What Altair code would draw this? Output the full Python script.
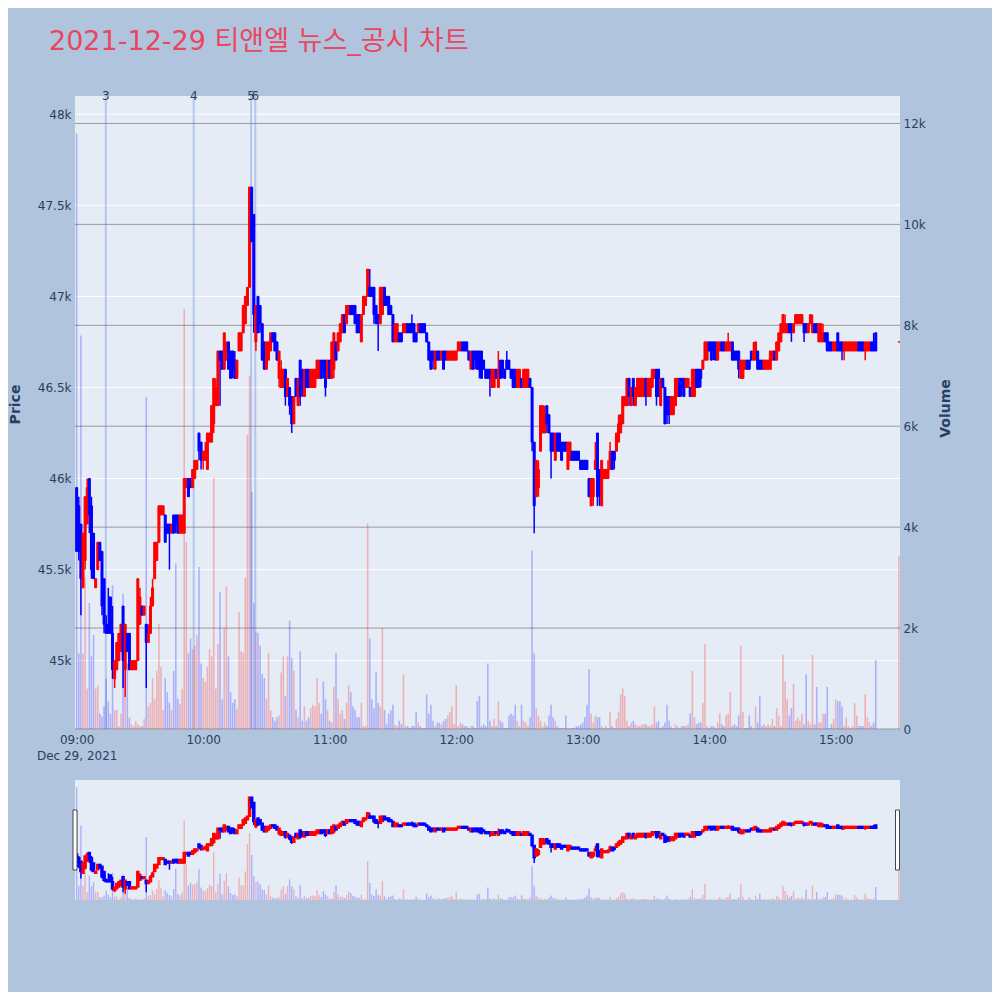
import altair as alt
import pandas as pd

# ---- 1-minute candles, 09:00 .. 15:19, plus the 15:30 closing auction ----
open_price = [
    45950,45850,45750,45400,45550,45750,46000,45850,45700,45400,
    45500,45650,45600,45450,45200,45200,45350,45150,44900,44950,
    45000,45050,45300,44950,45150,45150,44950,44950,44950,45000,
    45200,45300,45250,45200,45100,45150,45300,45450,45550,45650,
    45800,45800,45800,45750,45750,45700,45800,45800,45800,45700,
    45700,45700,45950,46000,46000,45950,46000,46050,46250,46200,
    46100,46100,46050,46200,46200,46300,46400,46400,46700,46700,
    46600,46650,46750,46700,46700,46650,46550,46700,46700,46800,
    46850,46950,47050,47600,47450,46750,47000,46950,46850,46750,
    46600,46650,46700,46800,46800,46750,46550,46500,46500,46600,
    46450,46500,46450,46300,46550,46400,46650,46600,46450,46600,
    46600,46500,46500,46500,46550,46550,46650,46650,46650,46550,
    46650,46550,46600,46750,46700,46750,46800,46900,46850,46900,
    46950,46950,46950,46900,46900,46750,46900,46950,47000,47050,
    47050,47050,46950,46900,46850,46900,47050,47000,47000,46950,
    46900,46750,46750,46800,46800,46800,46800,46850,46850,46850,
    46850,46800,46800,46850,46850,46850,46800,46750,46700,46700,
    46600,46700,46700,46650,46700,46700,46650,46650,46650,46650,
    46650,46700,46700,46750,46750,46750,46700,46600,46700,46700,
    46700,46700,46700,46650,46600,46600,46600,46500,46500,46600,
    46500,46650,46650,46600,46650,46650,46600,46600,46600,46500,
    46500,46550,46500,46500,46500,46550,46500,46200,45900,45950,
    46150,46250,46250,46400,46350,46250,46250,46100,46250,46250,
    46200,46200,46200,46050,46100,46150,46150,46150,46150,46100,
    46100,46100,46100,46000,45850,45900,46050,46250,46050,45850,
    46000,46000,46000,46050,46150,46150,46150,46200,46250,46300,
    46400,46400,46550,46400,46550,46400,46450,46450,46450,46450,
    46550,46450,46450,46500,46550,46600,46600,46400,46550,46500,
    46450,46450,46350,46350,46400,46450,46550,46550,46550,46500,
    46500,46500,46450,46450,46600,46600,46600,46600,46650,46650,
    46750,46750,46750,46750,46650,46700,46750,46750,46700,46700,
    46700,46750,46700,46700,46700,46550,46550,46600,46650,46650,
    46700,46650,46650,46700,46650,46650,46600,46600,46600,46600,
    46650,46700,46650,46700,46750,46800,46800,46800,46850,46850,
    46800,46850,46850,46850,46850,46850,46850,46800,46850,46800,
    46850,46850,46750,46750,46750,46800,46800,46750,46750,46700,
    46700,46800,46750,46750,46700,46700,46700,46700,46700,46700,
    46700,46750,46750,46750,46700,46700,46700,46750,46750,46800,
    46750,
]
high_price = [
    45950,45900,45750,45700,45900,46000,46000,45900,45700,45450,
    45650,45650,45600,45450,45250,45400,45350,45300,45000,45100,
    45150,45200,45300,45200,45150,45150,45000,45000,45000,45450,
    45400,45300,45300,45200,45200,45350,45450,45650,45650,45850,
    45850,45850,45800,45750,45750,45750,45800,45800,45800,45800,
    45800,46000,46000,46000,46000,46050,46100,46100,46250,46200,
    46150,46200,46250,46250,46400,46550,46550,46700,46700,46700,
    46800,46750,46750,46700,46700,46700,46650,46800,46800,46950,
    47000,47050,47600,47600,47450,46950,47000,46950,46850,46750,
    46750,46750,46800,46800,46800,46750,46700,46650,46600,46600,
    46550,46500,46450,46450,46550,46550,46650,46600,46600,46600,
    46600,46600,46600,46600,46650,46650,46650,46650,46650,46650,
    46650,46750,46800,46750,46800,46850,46900,46900,46950,46950,
    46950,46950,46950,46900,46900,46900,47000,47000,47150,47150,
    47050,47050,46950,46900,47050,47050,47050,47000,47000,46950,
    46900,46850,46850,46800,46800,46850,46850,46850,46850,46900,
    46850,46800,46850,46850,46850,46850,46800,46750,46700,46700,
    46700,46700,46700,46700,46700,46700,46700,46700,46700,46700,
    46700,46750,46750,46750,46750,46750,46700,46700,46700,46700,
    46700,46700,46700,46650,46600,46600,46600,46600,46600,46600,
    46700,46650,46650,46600,46700,46650,46600,46600,46600,46600,
    46600,46550,46600,46600,46600,46550,46500,46200,46100,46100,
    46400,46400,46400,46400,46350,46250,46250,46250,46250,46250,
    46200,46200,46200,46200,46200,46150,46150,46150,46150,46100,
    46100,46100,46100,46000,46000,46000,46200,46250,46050,46100,
    46050,46050,46100,46200,46150,46150,46250,46350,46350,46450,
    46450,46550,46550,46500,46550,46500,46550,46550,46550,46550,
    46550,46550,46550,46600,46600,46600,46600,46550,46550,46500,
    46450,46450,46450,46450,46550,46550,46550,46550,46550,46550,
    46550,46500,46600,46600,46600,46600,46600,46650,46750,46750,
    46750,46750,46750,46750,46750,46750,46750,46750,46750,46800,
    46750,46750,46700,46700,46700,46650,46650,46650,46650,46650,
    46700,46750,46750,46700,46650,46650,46650,46650,46650,46700,
    46700,46700,46750,46800,46850,46900,46900,46850,46850,46850,
    46850,46900,46900,46900,46900,46850,46850,46850,46900,46900,
    46850,46850,46850,46850,46850,46800,46800,46750,46750,46750,
    46750,46800,46750,46750,46750,46750,46750,46750,46750,46750,
    46750,46750,46750,46750,46750,46750,46750,46750,46800,46800,
    46750,
]
low_price = [
    45600,45550,45250,45400,45500,45750,45700,45450,45450,45400,
    45500,45550,45250,45150,45150,45150,45150,44900,44850,44950,
    45000,45050,44850,44800,45050,44950,44950,44950,44950,45000,
    45200,45250,45250,44850,45100,45150,45300,45450,45550,45650,
    45800,45800,45650,45700,45500,45700,45700,45700,45700,45700,
    45700,45700,45950,45900,45950,45950,46000,46050,46100,46050,
    46050,46100,46050,46200,46200,46250,46400,46400,46400,46600,
    46600,46650,46600,46550,46550,46550,46550,46700,46700,46800,
    46850,46950,47050,47300,46800,46700,46800,46800,46650,46600,
    46600,46650,46700,46750,46700,46650,46500,46500,46500,46400,
    46450,46350,46250,46300,46450,46400,46400,46450,46450,46500,
    46500,46500,46500,46500,46550,46550,46550,46550,46450,46550,
    46550,46550,46550,46650,46700,46750,46800,46800,46850,46900,
    46900,46900,46850,46800,46800,46750,46900,46950,47000,47000,
    47000,46850,46850,46700,46850,46900,46950,46950,46900,46900,
    46750,46750,46750,46750,46750,46800,46800,46800,46800,46800,
    46750,46750,46800,46800,46800,46800,46750,46650,46600,46600,
    46600,46650,46650,46650,46600,46650,46650,46650,46650,46650,
    46650,46700,46700,46700,46700,46700,46650,46600,46600,46600,
    46600,46550,46550,46600,46550,46550,46450,46500,46500,46550,
    46500,46550,46550,46550,46600,46600,46550,46500,46500,46500,
    46500,46500,46500,46500,46500,46500,46150,45700,45900,45900,
    46150,46250,46250,46250,46250,46000,46150,46100,46150,46150,
    46100,46150,46150,46050,46100,46100,46100,46100,46100,46050,
    46050,46050,46050,45900,45850,45850,46050,45850,45850,45850,
    46000,46000,46000,46050,46050,46050,46150,46200,46250,46300,
    46400,46400,46400,46400,46400,46400,46450,46450,46450,46450,
    46400,46450,46450,46500,46550,46400,46450,46400,46500,46300,
    46300,46300,46350,46350,46400,46450,46450,46450,46450,46500,
    46500,46450,46450,46450,46500,46500,46500,46600,46650,46650,
    46700,46650,46650,46650,46650,46700,46700,46700,46700,46700,
    46700,46650,46650,46650,46550,46550,46550,46600,46600,46600,
    46650,46650,46650,46600,46600,46600,46600,46600,46600,46600,
    46650,46650,46650,46700,46750,46800,46800,46800,46800,46750,
    46800,46850,46850,46850,46850,46750,46800,46800,46850,46800,
    46800,46800,46750,46750,46750,46750,46700,46700,46700,46700,
    46700,46700,46700,46650,46650,46700,46700,46700,46700,46700,
    46700,46700,46700,46700,46650,46700,46700,46700,46700,46700,
    46750,
]
close_price = [
    45600,45600,45450,45700,45900,45950,45800,45500,45450,45450,
    45650,45550,45300,45200,45150,45150,45150,44950,45000,45100,
    45150,45200,45000,45200,45050,44950,45000,45000,45000,45450,
    45350,45250,45300,45100,45150,45300,45400,45650,45650,45850,
    45850,45850,45650,45700,45700,45750,45700,45750,45700,45800,
    45800,46000,46000,45900,45950,46050,46100,46100,46150,46100,
    46150,46150,46250,46250,46400,46550,46500,46700,46650,46600,
    46800,46750,46600,46550,46600,46550,46650,46800,46800,46950,
    47000,47050,47600,47300,46900,46950,46800,46850,46650,46600,
    46750,46750,46800,46750,46700,46650,46700,46600,46600,46450,
    46550,46400,46300,46450,46450,46550,46450,46500,46600,46500,
    46500,46600,46600,46600,46650,46650,46550,46600,46500,46650,
    46550,46750,46800,46650,46800,46850,46900,46800,46950,46950,
    46900,46900,46850,46800,46800,46900,47000,47000,47150,47000,
    47000,46900,46850,46850,47050,47050,46950,46950,46900,46900,
    46750,46850,46850,46750,46750,46850,46850,46800,46800,46800,
    46750,46750,46850,46800,46800,46800,46750,46650,46600,46650,
    46700,46650,46650,46700,46600,46650,46700,46700,46700,46700,
    46700,46750,46750,46700,46700,46700,46650,46700,46600,46650,
    46600,46600,46550,46600,46550,46550,46550,46600,46600,46550,
    46600,46550,46600,46550,46600,46600,46550,46500,46500,46600,
    46600,46500,46600,46600,46600,46500,46200,45850,46100,46050,
    46400,46400,46350,46300,46250,46150,46150,46250,46150,46150,
    46100,46150,46150,46200,46200,46100,46100,46100,46100,46050,
    46050,46050,46050,45900,46000,46000,46100,45900,45900,46100,
    46050,46050,46050,46150,46050,46100,46250,46300,46350,46450,
    46450,46550,46450,46500,46450,46500,46550,46550,46550,46550,
    46450,46550,46550,46600,46600,46450,46450,46550,46500,46300,
    46350,46350,46450,46450,46550,46550,46450,46500,46450,46550,
    46550,46450,46600,46600,46500,46500,46550,46650,46750,46750,
    46700,46650,46700,46650,46750,46750,46700,46700,46750,46750,
    46750,46650,46650,46650,46600,46650,46650,46650,46600,46600,
    46650,46700,46750,46600,46600,46600,46650,46650,46650,46700,
    46700,46650,46750,46800,46850,46900,46850,46850,46800,46800,
    46850,46900,46900,46900,46900,46800,46800,46850,46900,46850,
    46800,46800,46850,46850,46800,46750,46700,46700,46700,46750,
    46750,46700,46700,46700,46750,46750,46750,46750,46750,46750,
    46750,46700,46700,46700,46750,46750,46750,46700,46700,46700,
    46750,
]
volume = [
    11800,1500,7800,1500,3000,800,2500,1440,1860,800,
    870,300,250,450,1000,550,300,2850,375,375,
    60,300,2680,1860,1300,230,100,60,160,90,
    50,60,200,6575,450,520,1010,590,1150,2080,
    1230,375,1010,730,520,375,1150,3280,600,500,
    800,8330,3700,1500,1790,1580,1650,1860,3210,1300,
    1010,940,1230,1580,1440,4980,800,1690,2710,590,
    2000,2820,1440,730,520,590,400,2320,1540,1510,
    3000,5830,7000,4700,2500,1930,1900,1650,1090,1010,
    590,1510,375,233,163,233,269,1120,1440,660,
    1440,2150,1400,1155,375,233,1540,163,446,163,
    233,411,482,446,1010,517,304,942,588,375,
    163,127,835,1510,588,304,375,198,517,871,
    730,446,375,233,233,517,57,57,4074,1790,
    588,411,1120,517,446,2005,375,92,304,375,
    482,92,57,163,92,1085,57,57,20,57,
    57,340,127,57,20,20,690,304,482,163,
    57,127,127,92,163,198,269,340,446,92,
    871,57,127,92,57,57,20,57,57,20,
    552,659,57,92,57,1296,163,57,198,57,
    552,163,127,20,20,269,304,269,482,163,
    57,482,163,127,57,233,3530,1500,411,269,
    163,57,127,57,269,482,233,163,57,20,
    20,20,269,20,20,20,20,57,57,92,
    127,233,482,1190,304,127,269,233,233,57,
    20,57,20,340,57,20,198,340,690,800,
    659,163,57,127,163,92,57,57,92,92,
    92,57,57,92,446,127,163,20,57,127,
    482,163,57,20,92,57,20,57,57,57,
    92,304,1155,233,92,127,127,517,1686,57,
    20,57,57,20,127,304,92,57,269,304,
    730,57,92,57,269,1650,340,20,20,269,
    57,20,446,127,659,57,92,57,92,57,
    198,57,411,269,57,1470,942,588,269,411,
    900,163,233,163,304,92,1085,163,92,1470,
    92,835,127,127,304,304,835,20,92,198,
    588,552,552,446,57,233,57,20,57,510,
    269,57,57,57,690,233,127,57,127,1370,
    3420,
]
# minutes after 09:00 (09:00..15:19 continuous, 15:30 close)
minute = list(range(380)) + [390]

event_minute = [13.8, 55.5, 82.7, 84.7]
event_label = ["3", "4", "5", "6"]

price_ticks = [45000, 45500, 46000, 46500, 47000, 47500, 48000]
volume_ticks = [0, 2000, 4000, 6000, 8000, 10000, 12000]
time_ticks = [0, 60, 120, 180, 240, 300, 360]

assert len(open_price) == len(high_price) == len(low_price) == len(close_price) == len(volume) == len(minute)

# plotly-style candle direction
cols = []
inc = True
prev_close = None
for o, c in zip(open_price, close_price):
    if c == o:
        if prev_close is not None and c != prev_close:
            inc = c > prev_close
    else:
        inc = c > o
    prev_close = c
    cols.append("#FF0000" if inc else "#0000FF")

df = pd.DataFrame({"minute": minute, "o": open_price, "h": high_price,
                   "l": low_price, "c": close_price, "v": volume, "col": cols})
ev = pd.DataFrame({"minute": event_minute, "label": event_label})
one = pd.DataFrame({"a": [0]})

W = 825
MAIN_H = 633
SL_TOP = 684
SL_BOT = 804
H = 804
TXT = "#2a3f5f"
FONT = "DejaVu Sans"

x_scale = alt.Scale(domain=[-0.8, 390.5], nice=False, zero=False, padding=0)
x_axis = alt.Axis(values=time_ticks, orient="bottom", offset=-(H - MAIN_H),
                  labelExpr="datum.value == 0 ? ['09:00', 'Dec 29, 2021'] : format(9 + datum.value / 60, '02d') + ':00'",
                  domain=False, ticks=False, grid=False, labelPadding=5,
                  labelFontSize=12, labelColor=TXT, labelFont=FONT,
                  labelFlush=False, labelOverlap=False, labelLineHeight=16.5,
                  title=None, zindex=1)
X = alt.X("minute:Q", scale=x_scale, axis=x_axis)

p_dom = [44625, 48100]
v_dom = [0, 12544]
price_main = alt.Scale(domain=p_dom, range=[MAIN_H, 0], nice=False, zero=False)
vol_main = alt.Scale(domain=v_dom, range=[MAIN_H, 0], nice=False)
price_sl = alt.Scale(domain=p_dom, range=[SL_BOT, SL_TOP], nice=False, zero=False)
vol_sl = alt.Scale(domain=v_dom, range=[SL_BOT, SL_TOP], nice=False)

bg_main = alt.Chart(one).mark_rect(color="#E5ECF6").encode(
    x=alt.value(0), x2=alt.value(W), y=alt.value(0), y2=alt.value(MAIN_H))
bg_sl = alt.Chart(one).mark_rect(color="#E5ECF6").encode(
    x=alt.value(0), x2=alt.value(W), y=alt.value(SL_TOP), y2=alt.value(SL_BOT))

price_grid = alt.Chart(pd.DataFrame({"p": price_ticks})).mark_rule(color="white", strokeWidth=1).encode(
    x=alt.value(0), x2=alt.value(W),
    y=alt.Y("p:Q", scale=price_main,
            axis=alt.Axis(orient="left", values=price_ticks, format="~s", grid=False,
                          domain=False, ticks=False, tickSize=0, labelPadding=4,
                          labelFontSize=12, labelColor=TXT, labelFont=FONT,
                          title="Price", titleFont=FONT, titleFontSize=14, titleFontWeight="bold",
                          titleColor=TXT, titleAngle=270, titleBaseline="middle",
                          titleX=-60, titleY=308)))
vol_grid = alt.Chart(pd.DataFrame({"q": volume_ticks})).mark_rule(color="#9a9a9a", strokeWidth=1).encode(
    x=alt.value(0), x2=alt.value(W),
    y=alt.Y("q:Q", scale=vol_main,
            axis=alt.Axis(orient="right", values=volume_ticks, format="~s",
                          labelExpr="datum.value == 0 ? '0' : datum.label", grid=False,
                          domain=False, ticks=False, tickSize=0, labelPadding=3,
                          labelFontSize=12, labelColor=TXT, labelFont=FONT,
                          title="Volume", titleFont=FONT, titleFontSize=14, titleFontWeight="bold",
                          titleColor=TXT, titleAngle=270, titleBaseline="middle",
                          titleX=45, titleY=312)))

vol_bars = alt.Chart(df).mark_bar(size=1.6, opacity=0.25).encode(
    x=X, y=alt.Y("v:Q", scale=vol_main, axis=None), color=alt.Color("col:N", scale=None))

ev_lines = alt.Chart(ev).mark_rule(color="royalblue", opacity=0.3, strokeWidth=2).encode(
    x=X, y=alt.value(0), y2=alt.value(MAIN_H))
ev_text = alt.Chart(ev).mark_text(fontSize=12, color=TXT, baseline="middle", font=FONT).encode(
    x=X, y=alt.value(0), text="label:N")

wicks = alt.Chart(df).mark_rule(strokeWidth=1.5).encode(
    x=X, y=alt.Y("l:Q", scale=price_main, axis=None), y2="h:Q",
    color=alt.Color("col:N", scale=None))
bodies = alt.Chart(df).mark_bar(size=2, strokeWidth=1).encode(
    x=X, y=alt.Y("o:Q", scale=price_main, axis=None), y2="c:Q",
    color=alt.Color("col:N", scale=None), stroke=alt.Stroke("col:N", scale=None))

sl_vol = alt.Chart(df).mark_bar(size=1.4, opacity=0.25).encode(
    x=X, y=alt.Y("v:Q", scale=vol_sl, axis=None), color=alt.Color("col:N", scale=None))
sl_wicks = alt.Chart(df).mark_rule(strokeWidth=1.5).encode(
    x=X, y=alt.Y("l:Q", scale=price_sl, axis=None), y2="h:Q",
    color=alt.Color("col:N", scale=None))
sl_bodies = alt.Chart(df).mark_bar(size=2, strokeWidth=1.5).encode(
    x=X, y=alt.Y("o:Q", scale=price_sl, axis=None), y2="c:Q",
    color=alt.Color("col:N", scale=None), stroke=alt.Stroke("col:N", scale=None))

handle_l = alt.Chart(one).mark_rect(fill="white", stroke="#444", strokeWidth=1).encode(
    x=alt.value(-2), x2=alt.value(2), y=alt.value(714), y2=alt.value(774))
handle_r = alt.Chart(one).mark_rect(fill="white", stroke="#444", strokeWidth=1).encode(
    x=alt.value(820.5), x2=alt.value(824.5), y=alt.value(714), y2=alt.value(774))

chart = alt.layer(
    bg_main, bg_sl, price_grid, vol_grid, vol_bars, ev_lines,
    wicks, bodies, ev_text, sl_vol, sl_wicks, sl_bodies, handle_l, handle_r
).resolve_scale(y="independent").properties(
    width=W, height=H,
    background="#B0C4DE",
    autosize=alt.AutoSizeParams(type="none"),
    padding={"left": 67, "top": 88, "right": 92, "bottom": 92},
    title=alt.TitleParams(text="2021-12-29 티앤엘 뉴스_공시 차트", anchor="start", frame="group",
                          font="DejaVu Sans, Noto Sans CJK KR", fontSize=27,
                          fontWeight="normal", color="#E9475F", offset=34, dx=-26),
).configure_view(stroke=None)

chart.save("out.html", embed_options={"renderer": "svg", "actions": False})
